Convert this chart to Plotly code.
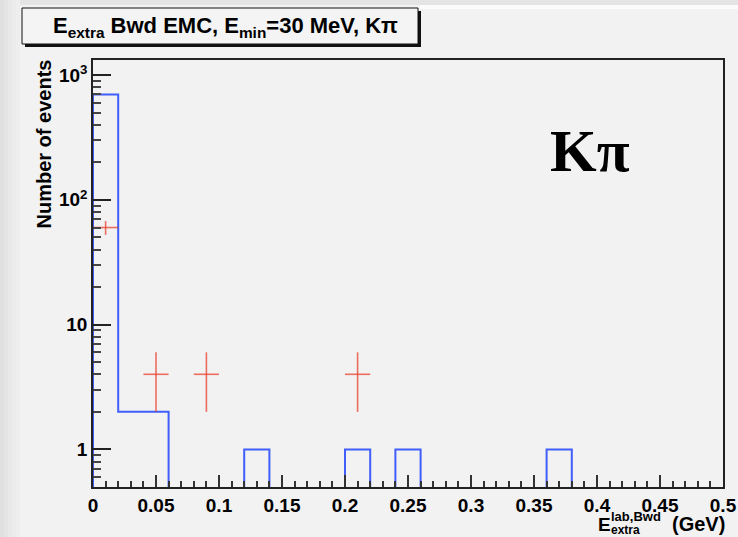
import math
import plotly.graph_objects as go

# ---- data ----
bin_edges = [round(i * 0.02, 2) for i in range(26)]
mc_counts = [700, 2, 2, 0, 0, 0, 1, 0, 0, 0, 1, 0, 1, 0, 0, 0, 0, 0, 1, 0, 0, 0, 0, 0, 0]
data_x = [0.01, 0.05, 0.09, 0.21]
data_y = [60, 4, 4, 4]
data_ey = [7.7, 2, 2, 2]
data_ex = [0.01, 0.01, 0.01, 0.01]

x_ticks = [0, 0.05, 0.1, 0.15, 0.2, 0.25, 0.3, 0.35, 0.4, 0.45, 0.5]
x_tick_text = ["0", "0.05", "0.1", "0.15", "0.2", "0.25", "0.3", "0.35", "0.4", "0.45", "0.5"]
y_ticks = [1, 10, 100, 1000]
y_tick_text = ["1", "10", "10<sup>2</sup>", "10<sup>3</sup>"]

YMIN, YMAX = 0.5, 1320
FLOOR = 0.3  # empty bins drawn below the frame (clipped)

# geometry helpers (pixel -> paper)
L, T, R, B = 93, 60, 723, 487
W, H = R - L, B - T
def px(x):
    return (x - L) / W
def py(y):
    return (B - y) / H

# step outline
hx = [0.0]
hy = [FLOOR]
for i, v in enumerate(mc_counts):
    hx.append(bin_edges[i])
    hy.append(v if v > 0 else FLOOR)
hx.append(bin_edges[-1])
hy.append(mc_counts[-1] if mc_counts[-1] > 0 else FLOOR)

fig = go.Figure()
fig.add_trace(go.Scatter(x=hx, y=hy, mode="lines", line=dict(shape="hv", color="#3f5efb", width=2),
                         hoverinfo="skip", showlegend=False))
red = "rgba(232,64,44,0.75)"
fig.add_trace(go.Scatter(x=data_x, y=data_y, mode="markers",
                         marker=dict(size=1, color="rgba(0,0,0,0)"),
                         error_x=dict(type="data", array=data_ex, width=0, color=red, thickness=1.6),
                         error_y=dict(type="data", array=data_ey, width=0, color=red, thickness=1.6),
                         showlegend=False))

minor_y = []
for dec in [0.1, 1, 10, 100, 1000]:
    for k in range(2, 10):
        v = dec * k
        if YMIN < v < YMAX:
            minor_y.append(v)

font = "Liberation Sans, Arial, sans-serif"
fig.update_layout(
    width=738, height=537,
    margin=dict(l=L, r=738 - R, t=T, b=537 - B, autoexpand=False),
    paper_bgcolor="#f2f2f2", plot_bgcolor="#f2f2f2",
    font=dict(family=font, color="black"),
    xaxis=dict(range=[0, 0.5], tickmode="array", tickvals=x_ticks, ticktext=x_tick_text, automargin=False,
               ticks="inside", ticklen=12, tickwidth=1.5, tickcolor="#333",
               tickfont=dict(size=19, family=font, weight="bold"),
               showgrid=False, zeroline=False, showline=True, linecolor="#222", linewidth=1.5, mirror=True,
               minor=dict(dtick=0.01, tick0=0, ticks="inside", ticklen=6, tickwidth=1.5, tickcolor="#333", showgrid=False)),
    yaxis=dict(type="log", range=[math.log10(YMIN), math.log10(YMAX)], tickmode="array", automargin=False,
               tickvals=y_ticks, ticktext=y_tick_text,
               ticks="inside", ticklen=18, tickwidth=1.5, tickcolor="#222",
               tickfont=dict(size=19, family=font, weight="bold"),
               showgrid=False, zeroline=False, showline=True, linecolor="#222", linewidth=1.5, mirror=True,
               minor=dict(tickmode="array", tickvals=minor_y, ticks="inside", ticklen=8, tickwidth=1.5,
                          tickcolor="#444", showgrid=False)),
)

# background left gradient band and top band
for i, c in enumerate(["#e0e0e0", "#e4e4e4", "#e8e8e8", "#ebebeb", "#eeeeee"]):
    fig.add_shape(type="rect", xref="paper", yref="paper", x0=px(i * 4), x1=px(i * 4 + 4), y0=py(537), y1=py(0),
                  fillcolor=c, line=dict(width=0), layer="below")
fig.add_shape(type="rect", xref="paper", yref="paper", x0=px(20), x1=px(738), y0=py(5), y1=py(0),
              fillcolor="#e4e4e4", line=dict(width=0), layer="below")
fig.add_shape(type="rect", xref="paper", yref="paper", x0=px(420), x1=px(738), y0=py(9), y1=py(5),
              fillcolor="#fbfbfb", line=dict(width=0), layer="below")

# title box with shadow
fig.add_shape(type="rect", xref="paper", yref="paper", x0=px(25), x1=px(421), y0=py(47), y1=py(11),
              fillcolor="#111", line=dict(width=0))
fig.add_shape(type="rect", xref="paper", yref="paper", x0=px(22), x1=px(418), y0=py(44), y1=py(8),
              fillcolor="#f4f4f4", line=dict(color="#111", width=1))
fig.add_annotation(xref="paper", yref="paper", x=px(225), y=py(27), xanchor="center", yanchor="middle",
                   text="<b>E<sub>extra</sub> Bwd EMC, E<sub>min</sub>=30 MeV, Kπ</b>", showarrow=False,
                   font=dict(size=22, family=font, color="black"))

# big K pi label
fig.add_annotation(xref="paper", yref="paper", x=px(590), y=py(151), xanchor="center", yanchor="middle",
                   text="<b>Kπ</b>", showarrow=False,
                   font=dict(size=60, family="Liberation Serif, Times New Roman, serif", color="black"))

# y-axis title
fig.add_annotation(xref="paper", yref="paper", x=px(43), y=py(58), xanchor="center", yanchor="top",
                   text="<b>Number of events</b>", textangle=-90, showarrow=False,
                   font=dict(size=20, family=font, color="black"))

# x-axis title pieces
fig.add_annotation(xref="paper", yref="paper", x=px(596), y=py(524), xanchor="left", yanchor="middle",
                   text="<b>E</b>", showarrow=False, font=dict(size=19, family=font, color="black"))
fig.add_annotation(xref="paper", yref="paper", x=px(609), y=py(516), xanchor="left", yanchor="middle",
                   text="<b>lab,Bwd</b>", showarrow=False, font=dict(size=13, family=font, color="black"))
fig.add_annotation(xref="paper", yref="paper", x=px(609), y=py(530), xanchor="left", yanchor="middle",
                   text="<b>extra</b>", showarrow=False, font=dict(size=12, family=font, color="black"))
fig.add_annotation(xref="paper", yref="paper", x=px(727), y=py(524), xanchor="right", yanchor="middle",
                   text="<b>(GeV)</b>", showarrow=False, font=dict(size=20, family=font, color="black"))

fig.write_html("out.html", config={"displayModeBar": False},
               post_script="document.body.style.margin='0px';document.body.style.overflow='hidden';")
